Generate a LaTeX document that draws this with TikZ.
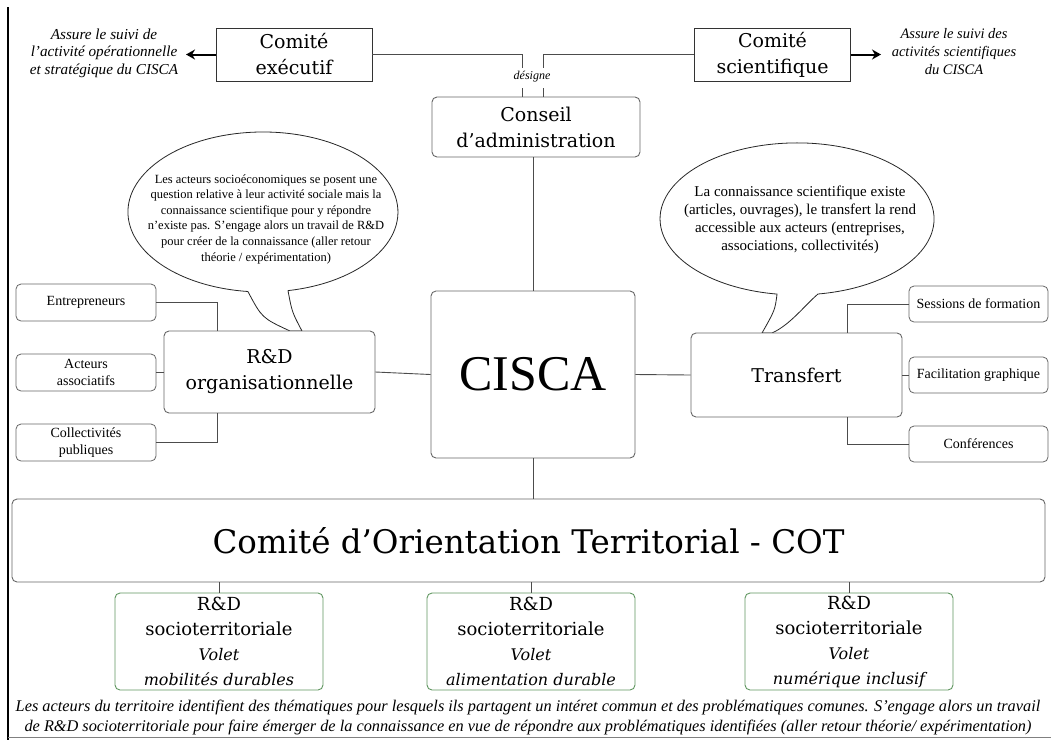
\documentclass[tikz,border=0pt]{standalone}
\usepackage{fontspec}
\setmainfont{Liberation Serif}
\newfontfamily\boxfont{DejaVu Serif}
\usetikzlibrary{arrows.meta}

\definecolor{gborder}{RGB}{95,150,95}

\tikzset{
  line/.style={draw=black!70, line width=0.9pt},
  arrow/.style={draw=black, line width=2pt, -{Stealth[length=9pt,width=10pt]}},
  comite/.style={draw=black!80, line width=0.9pt, fill=white, minimum width=156, minimum height=53,
    align=center, inner sep=0, font=\boxfont\fontsize{19}{26}\selectfont},
  bigbox/.style={draw=black!60, line width=0.9pt, fill=white, rounded corners=5, align=center,
    inner sep=0, font=\boxfont\fontsize{19}{26}\selectfont},
  smallbox/.style={draw=black!60, line width=0.8pt, fill=white, rounded corners=5, align=center,
    minimum width=140, minimum height=37, inner sep=0, font=\fontsize{14}{17}\selectfont},
  greenbox/.style={draw=gborder, line width=0.9pt, fill=white, rounded corners=5, align=center,
    minimum width=208, minimum height=97, inner sep=0, font=\boxfont\fontsize{18}{25}\selectfont},
  bubble/.style={draw=black!85, line width=0.8pt, fill=white}
}
\newcommand{\volet}[1]{{\itshape\fontsize{16}{25}\selectfont #1}}

\begin{document}
\begin{tikzpicture}[x=1pt,y=-1pt]
\useasboundingbox (0,0) rectangle (1051,740);
\draw[line width=2pt] (8,7) -- (8,740);
\draw[black!50, line width=0.8pt] (8,737) -- (1051,737);

% bulles
\draw[bubble] (288,290.6) arc[start angle=79.3, end angle=-263.6, x radius=135, y radius=80]
  .. controls (262,318) .. (290,331) -- (302,331) .. controls (292,312) .. (288,290.6);
\draw[bubble] (818,294) arc[start angle=81.2, end angle=-261.6, x radius=137, y radius=76]
  .. controls (775,310) .. (762,333) -- (772,333) .. controls (790,325) and (805,305) .. (818,294);
\node[align=center, font=\fontsize{12.5}{15.6}\selectfont] (bubleft) at (266,219)
  {Les acteurs socioéconomiques se posent une\\question relative à leur activité sociale mais la\\connaissance scientifique pour y répondre\\n’existe pas. S’engage alors un travail de R\&D\\pour créer de la connaissance (aller retour\\théorie / expérimentation)};
\node[align=center, font=\fontsize{15}{18}\selectfont] (bubright) at (800,220)
  {La connaissance scientifique existe\\(articles, ouvrages), le transfert la rend\\accessible aux acteurs (entreprises,\\associations, collectivités)};

% gouvernance
\node[comite] (cexec) at (294,54.5) {Comité\\exécutif};
\node[comite] (csci) at (772.5,54.5) {Comité\\scientifique};
\node[align=center, font=\itshape\fontsize{15.2}{17.5}\selectfont] (suiviexec) at (104,53) {Assure le suivi de\\l’activité opérationnelle\\et stratégique du CISCA};
\node[align=center, font=\itshape\fontsize{14.5}{18}\selectfont] (suivisci) at (954,52) {Assure le suivi des\\activités scientifiques\\du CISCA};
\coordinate (aexec) at (186,54.5);
\coordinate (asci) at (881,54.5);
\draw[arrow] (cexec.west) -- (aexec);
\draw[arrow] (csci.east) -- (asci);

\node[bigbox, minimum width=208, minimum height=60] (conseil) at (536,127) {Conseil\\d’administration};
\node[font=\itshape\fontsize{12}{14}\selectfont] (desig) at (532,77) {désigne};
\coordinate (dl1) at (522,68);
\coordinate (dl2) at (522,88);
\coordinate (dr1) at (543,68);
\coordinate (dr2) at (543,88);
\draw[line] (cexec.east) -| (dl1);
\draw[line] (dl2) -- (dl2 |- conseil.north);
\draw[line] (csci.west) -| (dr1);
\draw[line] (dr2) -- (dr2 |- conseil.north);

% centre
\node[bigbox, minimum width=204, minimum height=167, font=\fontsize{50}{60}\selectfont] (cisca) at (533,374.5) {CISCA};
\node[bigbox, minimum width=211, minimum height=82] (rdorg) at (269.5,372) {R\&D\\organisationnelle};
\node[bigbox, minimum width=211, minimum height=84] (transf) at (796.5,375) {Transfert};
\draw[line] (conseil.south -| cisca.north) -- (cisca.north);
\draw[line] (cisca.west) -- (rdorg.west -| rdorg.east);
\draw[line] (cisca.east) -- (transf.west);

\node[smallbox] (entre) at (86,302.5) {Entrepreneurs};
\node[smallbox] (assoc) at (86,372.5) {Acteurs\\associatifs};
\node[smallbox] (coll) at (86,442.5) {Collectivités\\publiques};
\coordinate (rdj) at (217,0);
\draw[line] (entre.east) -| (rdj |- rdorg.north);
\draw[line] (assoc.east) -- (assoc.east -| rdorg.west);
\draw[line] (coll.east) -| (rdj |- rdorg.south);

\node[smallbox, minimum width=139, minimum height=36] (sess) at (978.5,304) {Sessions de formation};
\node[smallbox, minimum width=139, minimum height=36] (facil) at (978.5,375) {Facilitation graphique};
\node[smallbox, minimum width=139, minimum height=36] (conf) at (978.5,444) {Conférences};
\coordinate (tj) at (847,0);
\draw[line] (tj |- transf.north) |- (sess.west);
\draw[line] (transf.east) -- (facil.west);
\draw[line] (tj |- transf.south) |- (conf.west);

% territoire
\node[bigbox, minimum width=1033, minimum height=83, font=\boxfont\fontsize{32.5}{36}\selectfont] (cot) at (528.5,540.5) {Comité d’Orientation Territorial - COT};
\draw[line] (cisca.south) -- (cisca.south |- cot.north);
\node[greenbox] (rdmob) at (219,641.5) {R\&D\\socioterritoriale\\\volet{Volet}\\\volet{mobilités durables}};
\node[greenbox] (rdalim) at (531,641.5) {R\&D\\socioterritoriale\\\volet{Volet}\\\volet{alimentation durable}};
\node[greenbox] (rdnum) at (849,641.5) {R\&D\\socioterritoriale\\\volet{Volet}\\\volet{numérique inclusif}};
\foreach \g in {rdmob,rdalim,rdnum}
  \draw[line] (\g.north) -- (\g.north |- cot.south);
\node[align=center, font=\itshape\fontsize{16.3}{20}\selectfont] (note) at (528,717)
  {Les acteurs du territoire identifient des thématiques pour lesquels ils partagent un intéret commun et des problématiques comunes. S’engage alors un travail\\de R\&D socioterritoriale pour faire émerger de la connaissance en vue de répondre aux problématiques identifiées (aller retour théorie/ expérimentation)};
\end{tikzpicture}
\end{document}
